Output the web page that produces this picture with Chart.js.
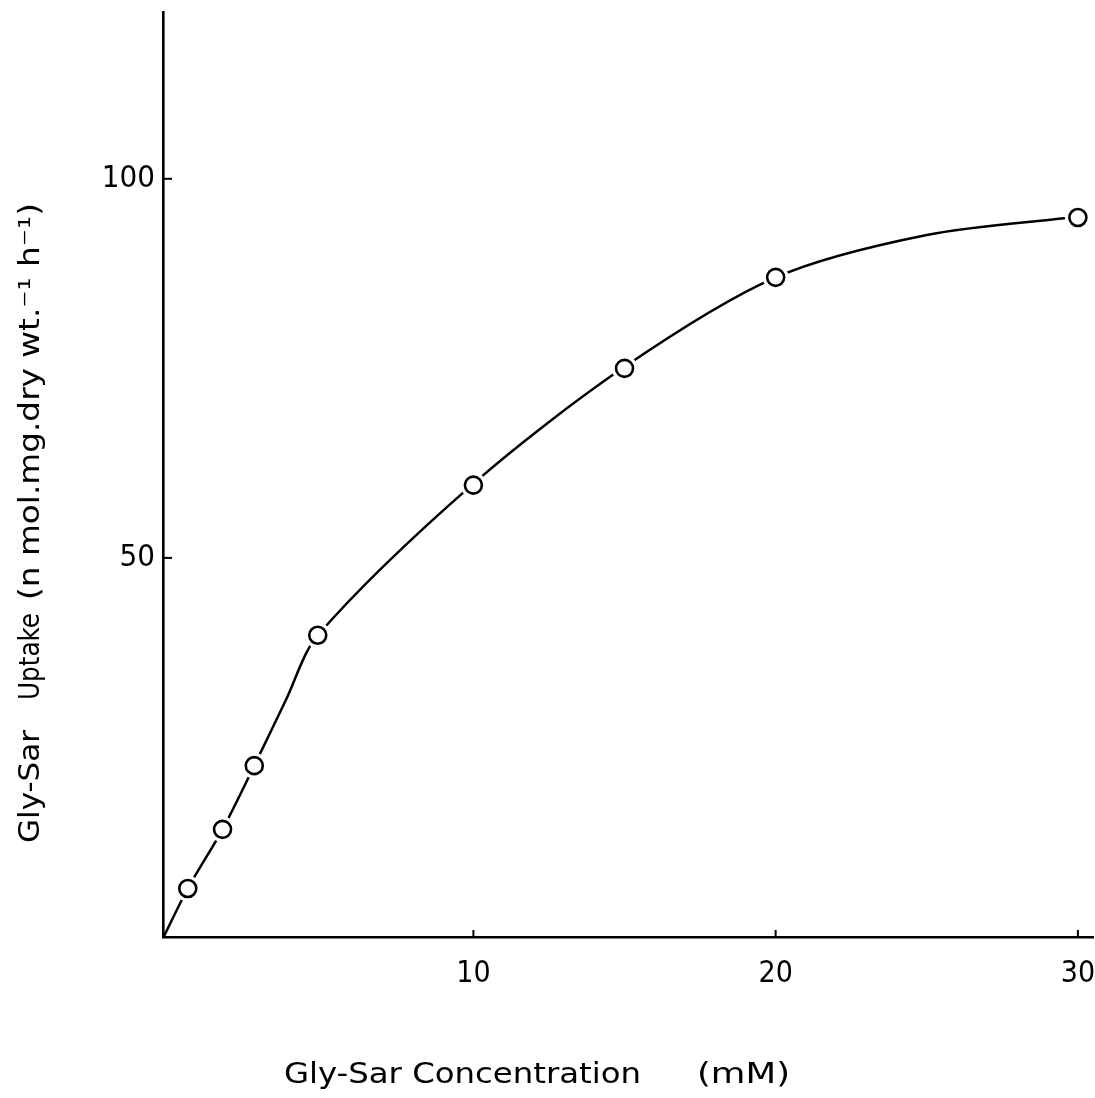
<!DOCTYPE html>
<html>
<head>
<meta charset="utf-8">
<script src="https://cdn.jsdelivr.net/npm/chart.js@4.4.1/dist/chart.umd.min.js"></script>
<style>
  html, body { margin: 0; padding: 0; background: #fff; }
  #uptake { display: block; }
</style>
</head>
<body>
<canvas id="uptake" width="1095" height="1098"></canvas>
<script>
// Gly-Sar uptake vs concentration (measured points)
const concentration = [0.55, 1.7, 2.75, 4.85, 10, 15, 20, 30];
const uptake = [6.4, 14.2, 22.6, 39.8, 59.6, 75.0, 87.0, 94.9];

// hand-drawn saturation curve through the points
const curveX = [-0.25, 0.55, 1.7, 2.75, 3.8, 4.85, 10, 15, 20, 25, 30];
const curveY = [0, 6.4, 14.2, 22.6, 31.3, 39.8, 59.8, 75.2, 87.0, 92.6, 95.0];

const xTicks = [10, 20, 30];
const yTicks = [50, 100];

const xTitle = ['Gly-Sar Concentration', '(mM)'];
const yTitle = ['Gly-Sar', 'Uptake', '(n mol.mg.dry wt.\u207B\u00B9 h\u207B\u00B9)'];

const FONT = '"DejaVu Sans Condensed", "DejaVu Sans", sans-serif';

function toXY(xs, ys) {
  return xs.map((x, i) => ({ x: x, y: ys[i] }));
}

// draws text scaled horizontally to a given width
function fitText(ctx, text, x, y, width) {
  const w = ctx.measureText(text).width;
  ctx.save();
  ctx.translate(x, y);
  ctx.scale(width / w, 1);
  ctx.fillText(text, 0, 0);
  ctx.restore();
}

const decorations = {
  id: 'decorations',
  afterDraw(chart) {
    const ctx = chart.ctx;
    const xs = chart.scales.x;
    const ys = chart.scales.y;
    const area = chart.chartArea;

    ctx.save();
    ctx.strokeStyle = '#000';
    ctx.fillStyle = '#000';
    ctx.lineWidth = 2;

    // inward tick marks + labels
    ctx.font = '30px ' + FONT;
    ctx.textAlign = 'center';
    ctx.textBaseline = 'middle';
    xTicks.forEach(v => {
      const px = xs.getPixelForValue(v);
      ctx.beginPath();
      ctx.moveTo(px, area.bottom);
      ctx.lineTo(px, area.bottom - 7);
      ctx.stroke();
      ctx.fillText(String(v), px, area.bottom + 37);
    });
    ctx.font = '31px ' + FONT;
    ctx.textAlign = 'right';
    yTicks.forEach(v => {
      const py = ys.getPixelForValue(v);
      ctx.beginPath();
      ctx.moveTo(area.left, py);
      ctx.lineTo(area.left + 9, py);
      ctx.stroke();
      ctx.fillText(String(v), area.left - 8, py);
    });

    // axis titles
    ctx.textBaseline = 'alphabetic';
    ctx.textAlign = 'left';
    ctx.font = '28px ' + FONT;
    fitText(ctx, xTitle[0], 284, 1083, 357);
    fitText(ctx, xTitle[1], 697, 1083, 93);

    ctx.font = '28px ' + FONT;
    ctx.translate(39, 0);
    ctx.rotate(-Math.PI / 2);
    // rotated frame: x runs upward (negated page y)
    fitText(ctx, yTitle[0], -843, 0, 113);
    fitText(ctx, yTitle[1], -700, 0, 87);
    fitText(ctx, yTitle[2], -600, 0, 397);
    ctx.restore();
  }
};

new Chart(document.getElementById('uptake'), {
  type: 'scatter',
  data: {
    datasets: [
      {
        label: 'curve',
        data: toXY(curveX, curveY),
        showLine: true,
        tension: 0.3,
        borderColor: '#000',
        borderWidth: 2.5,
        pointRadius: 0,
        fill: false,
        clip: false,
        order: 3
      },
      {
        label: 'gap',
        data: toXY(concentration, uptake),
        showLine: false,
        pointRadius: 13,
        pointBorderWidth: 0,
        pointBackgroundColor: '#fff',
        pointBorderColor: '#fff',
        clip: false,
        order: 2
      },
      {
        label: 'Gly-Sar uptake',
        data: toXY(concentration, uptake),
        showLine: false,
        pointRadius: 8.5,
        pointBorderWidth: 2.6,
        pointBackgroundColor: '#fff',
        pointBorderColor: '#000',
        clip: false,
        order: 1
      }
    ]
  },
  options: {
    responsive: false,
    animation: false,
    events: [],
    layout: { autoPadding: false, padding: { left: 0, top: 12, right: 2, bottom: 0 } },
    plugins: {
      legend: { display: false },
      tooltip: { enabled: false }
    },
    scales: {
      x: {
        type: 'linear',
        min: -0.27,
        max: 30.5,
        grid: { display: false, drawTicks: false },
        border: { display: true, color: '#000', width: 2.6 },
        ticks: { display: false },
        afterBuildTicks: scale => { scale.ticks = xTicks.map(v => ({ value: v })); },
        afterFit: scale => { scale.height = 161; }
      },
      y: {
        type: 'linear',
        min: 0,
        max: 122,
        grid: { display: false, drawTicks: false },
        border: { display: true, color: '#000', width: 2.6 },
        ticks: { display: false },
        afterBuildTicks: scale => { scale.ticks = yTicks.map(v => ({ value: v })); },
        afterFit: scale => { scale.width = 163; }
      }
    }
  },
  plugins: [decorations]
});
</script>
</body>
</html>
